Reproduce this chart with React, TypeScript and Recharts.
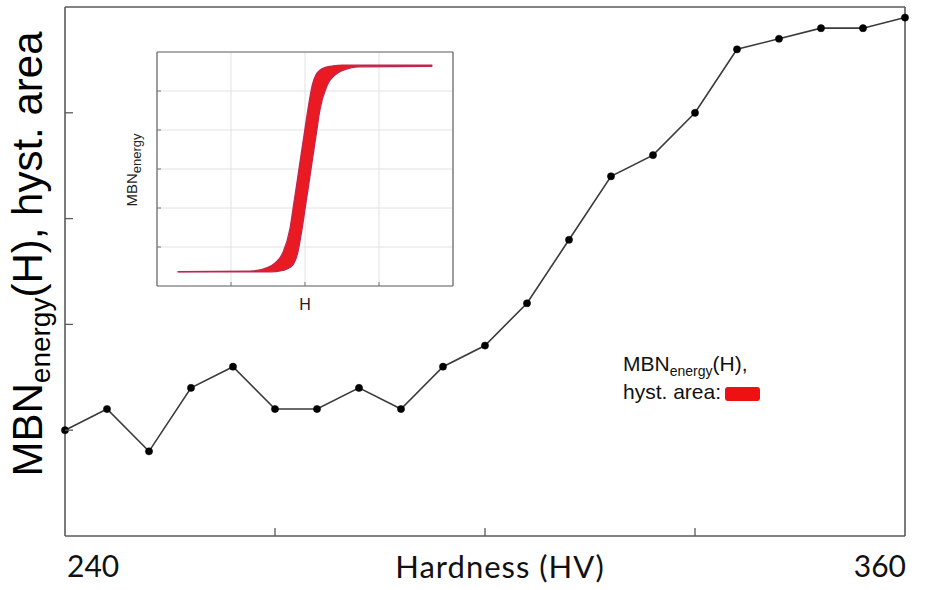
import React from 'react';
import { LineChart, Line, XAxis, YAxis, AreaChart, Area, CartesianGrid, Legend } from 'recharts';

// ---- main chart data ----
const hardness = [240, 246, 252, 258, 264, 270, 276, 282, 288, 294, 300, 306, 312, 318, 324, 330, 336, 342, 348, 354, 360];
const hystArea = [1.0, 1.2, 0.8, 1.4, 1.6, 1.2, 1.2, 1.4, 1.2, 1.6, 1.8, 2.2, 2.8, 3.4, 3.6, 4.0, 4.6, 4.7, 4.8, 4.8, 4.9];
const xTicks = [240, 270, 300, 330, 360];
const xTickLabels = ['240', '', '', '', '360'];
const yTicks = [0, 1, 2, 3, 4, 5];

// ---- inset hysteresis loop data ----
const loopH = [-1.72, -0.74, -0.5, -0.4, -0.3, -0.2, -0.15, -0.1, -0.05, 0, 0.05, 0.1, 0.15, 0.2, 0.3, 0.4, 0.5, 0.74, 1.72];
const loopUpper = [-2.63, -2.62, -2.52, -2.4, -2.15, -1.5, -0.87, -0.24, 0.4, 1.03, 1.65, 2.16, 2.42, 2.53, 2.62, 2.65, 2.66, 2.66, 2.66];
const loopLower = [-2.64, -2.64, -2.64, -2.63, -2.6, -2.52, -2.42, -2.16, -1.65, -1.03, -0.4, 0.24, 0.87, 1.5, 2.15, 2.4, 2.52, 2.62, 2.63];
const insetXTicks = [-2, -1, 0, 1, 2];
const insetYTicks = [-3, -2, -1, 0, 1, 2, 3];

const mainData = hardness.map((h, i) => ({ h, v: hystArea[i] }));
const loopData = loopH.map((h, i) => ({ h, range: [loopLower[i], loopUpper[i]] }));

const FRAME = '#5a5a5a';
const LABEL_FONT = 'Lato, "Open Sans", sans-serif';
const ARIAL = '"Liberation Sans", Arial, sans-serif';
const RED = '#ea1a22';

const BottomTick = (props: any) => {
  const { x, y, index } = props;
  const label = xTickLabels[index] ?? '';
  const isFirst = index === 0;
  const isLast = index === xTicks.length - 1;
  return (
    <g>
      {!isFirst && !isLast && <line x1={x} x2={x} y1={y} y2={y - 8} stroke={FRAME} strokeWidth={1.3} />}
      {label !== '' && (
        <text x={isFirst ? x + 2 : x + 1} y={y + 41} textAnchor={isFirst ? 'start' : 'end'} fontFamily={LABEL_FONT} fontSize={30} fill="#111">
          {label}
        </text>
      )}
    </g>
  );
};

const LeftTick = (props: any) => {
  const { x, y, index } = props;
  if (index === 0 || index === yTicks.length - 1) return <g />;
  return <line x1={x} x2={x + 8} y1={y} y2={y} stroke={FRAME} strokeWidth={1.3} />;
};
const RightTick = (props: any) => {
  const { x, y, index } = props;
  if (index === 0 || index === yTicks.length - 1) return <g />;
  return <line x1={x} x2={x - 8} y1={y} y2={y} stroke={FRAME} strokeWidth={1.3} />;
};

const XTitle = (props: any) => {
  const vb = props.viewBox || { x: 65, y: 536, width: 840 };
  return (
    <text x={vb.x + vb.width / 2 + 15} y={vb.y + 42} textAnchor="middle" fontFamily={LABEL_FONT} fontSize={31} letterSpacing={1} fill="#111">
      Hardness (HV)
    </text>
  );
};

const YTitle = (props: any) => {
  const vb = props.viewBox || { x: 64, y: 7, width: 1, height: 529 };
  const cx = vb.x + (vb.width || 0) - 23;
  const cy = vb.y + 247;
  return (
    <text x={cx} y={cy} transform={`rotate(-90, ${cx}, ${cy})`} textAnchor="middle" fontFamily={ARIAL} fontSize={42} fill="#000">
      <tspan>MBN</tspan>
      <tspan fontSize={28} dy={8}>energy</tspan>
      <tspan dy={-8}>(H), hyst. area</tspan>
    </text>
  );
};

const LegendBox = () => (
  <div style={{ fontFamily: ARIAL, fontSize: 21, color: '#111', lineHeight: '25px', whiteSpace: 'nowrap', marginTop: 1 }}>
    <div>
      MBN<span style={{ fontSize: 14, position: 'relative', top: 5 }}>energy</span>(H),
    </div>
    <div>
      hyst. area:
      <span style={{ display: 'inline-block', width: 35, height: 14, background: '#ee1111', borderRadius: 3, marginLeft: 4, verticalAlign: '-2px' }} />
    </div>
  </div>
);

// ---- inset ticks ----
const InsetBottomTick = (props: any) => {
  const { x, y, index } = props;
  if (index === 0 || index === insetXTicks.length - 1) return <g />;
  return <line x1={x} x2={x} y1={y} y2={y - 4} stroke="#777" strokeWidth={1} />;
};
const InsetLeftTick = (props: any) => {
  const { x, y, index } = props;
  if (index === 0 || index === insetYTicks.length - 1) return <g />;
  return <line x1={x} x2={x + 4} y1={y} y2={y} stroke="#777" strokeWidth={1} />;
};
const InsetRightTick = (props: any) => {
  const { x, y, index } = props;
  if (index === 0 || index === insetYTicks.length - 1) return <g />;
  return <line x1={x} x2={x - 4} y1={y} y2={y} stroke="#777" strokeWidth={1} />;
};
const InsetXTitle = (props: any) => {
  const vb = props.viewBox || { x: 157, y: 286, width: 296 };
  return (
    <text x={vb.x + vb.width / 2} y={vb.y + 24} textAnchor="middle" fontFamily={ARIAL} fontSize={16} fill="#222">
      H
    </text>
  );
};
const InsetYTitle = (props: any) => {
  const vb = props.viewBox || { x: 56, y: 52, width: 1, height: 234 };
  const cx = vb.x + (vb.width || 0) - 20;
  const cy = vb.y + 118;
  return (
    <text x={cx} y={cy} transform={`rotate(-90, ${cx}, ${cy})`} textAnchor="middle" fontFamily={ARIAL} fontSize={15} fill="#222">
      <tspan>MBN</tspan>
      <tspan fontSize={13} dy={4}>energy</tspan>
    </text>
  );
};

export default function App() {
  return (
    <div style={{ position: 'absolute', left: 0, top: 0, width: 938, height: 590, background: '#fff' }}>
      <LineChart width={938} height={590} data={mainData} margin={{ top: 6, right: 32, bottom: 53, left: 64 }}>
        <XAxis
          dataKey="h"
          type="number"
          domain={[240, 360]}
          ticks={xTicks}
          interval={0}
          height={1}
          tickSize={0}
          tickMargin={0}
          tickLine={false}
          tick={<BottomTick />}
          axisLine={{ stroke: FRAME, strokeWidth: 1.6 }}
          label={<XTitle />}
        />
        <XAxis xAxisId="top" orientation="top" type="number" domain={[240, 360]} height={1} tick={false} tickLine={false} axisLine={{ stroke: FRAME, strokeWidth: 1.6 }} />
        <YAxis
          type="number"
          domain={[0, 5]}
          ticks={yTicks}
          interval={0}
          width={1}
          tickSize={0}
          tickMargin={0}
          tickLine={false}
          tick={<LeftTick />}
          axisLine={{ stroke: FRAME, strokeWidth: 1.6 }}
          label={<YTitle />}
        />
        <YAxis
          yAxisId="right"
          orientation="right"
          type="number"
          domain={[0, 5]}
          ticks={yTicks}
          interval={0}
          width={1}
          tickSize={0}
          tickMargin={0}
          tickLine={false}
          tick={<RightTick />}
          axisLine={{ stroke: FRAME, strokeWidth: 1.6 }}
        />
        <Legend
          layout="horizontal"
          verticalAlign="middle"
          align="center"
          content={<LegendBox />}
          wrapperStyle={{ left: 623, top: 350, width: 220, height: 50 }}
        />
        <Line
          type="linear"
          dataKey="v"
          stroke="#3a3a3a"
          strokeWidth={1.6}
          dot={{ r: 3.6, fill: '#000', stroke: '#000', strokeWidth: 0.5 }}
          isAnimationActive={false}
          legendType="none"
        />
      </LineChart>

      <div style={{ position: 'absolute', left: 100, top: 40, width: 380, height: 290 }}>
        <AreaChart width={380} height={290} data={loopData} margin={{ top: 11, right: 26, bottom: 43, left: 56 }}>
          <CartesianGrid stroke="#e2e2e2" strokeWidth={1} fill="#fff" />
          <XAxis
            dataKey="h"
            type="number"
            domain={[-2, 2]}
            ticks={insetXTicks}
            interval={0}
            height={1}
            tickSize={0}
            tickMargin={0}
            tickLine={false}
            tick={<InsetBottomTick />}
            axisLine={{ stroke: '#666', strokeWidth: 1.2 }}
            label={<InsetXTitle />}
          />
          <XAxis xAxisId="top" orientation="top" type="number" domain={[-2, 2]} height={1} tick={false} tickLine={false} axisLine={{ stroke: '#666', strokeWidth: 1.2 }} />
          <YAxis
            type="number"
            domain={[-3, 3]}
            ticks={insetYTicks}
            interval={0}
            width={1}
            tickSize={0}
            tickMargin={0}
            tickLine={false}
            tick={<InsetLeftTick />}
            axisLine={{ stroke: '#666', strokeWidth: 1.2 }}
            label={<InsetYTitle />}
          />
          <YAxis
            yAxisId="right"
            orientation="right"
            type="number"
            domain={[-3, 3]}
            ticks={insetYTicks}
            interval={0}
            width={1}
            tickSize={0}
            tickMargin={0}
            tickLine={false}
            tick={<InsetRightTick />}
            axisLine={{ stroke: '#666', strokeWidth: 1.2 }}
          />
          <Area
            type="monotone"
            dataKey="range"
            fill={RED}
            fillOpacity={1}
            stroke="#c0264e"
            strokeWidth={1.3}
            dot={false}
            activeDot={false}
            isAnimationActive={false}
          />
        </AreaChart>
      </div>
    </div>
  );
}
